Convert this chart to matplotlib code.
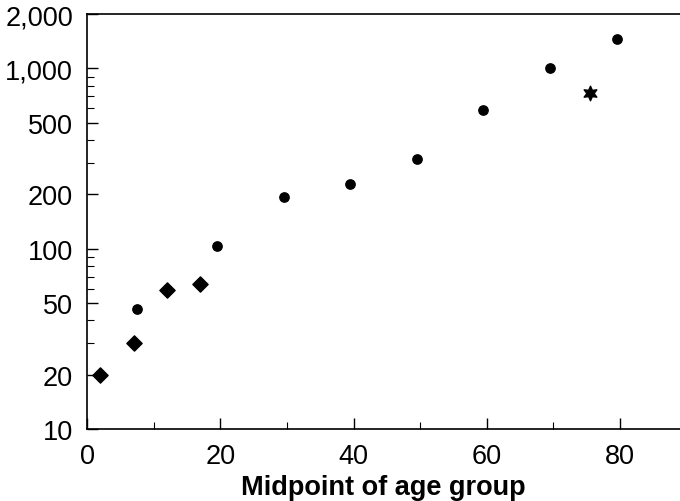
import matplotlib
matplotlib.use("Agg")
import matplotlib.pyplot as plt
from matplotlib.ticker import FixedLocator, LogLocator, NullFormatter, MultipleLocator

plt.rcParams['font.family'] = ['Liberation Sans', 'DejaVu Sans']

# diamonds
dia_age = [2, 7, 12, 17]
dia_val = [20, 30, 59, 64]
# circles
circ_age = [7.5, 19.5, 29.5, 39.5, 49.5, 59.5, 69.5, 79.5]
circ_val = [46, 103, 194, 229, 314, 585, 1010, 1460]
# star
star_age = [75.5]
star_val = [725]

yticks = [10, 20, 50, 100, 200, 500, 1000, 2000]
xticks = [0, 20, 40, 60, 80]

fig = plt.figure(figsize=(6.8, 5.02), dpi=100)
ax = fig.add_axes([0.128, 0.1434, 0.872, 0.8267])

ax.scatter(dia_age, dia_val, marker='D', s=60, color='black', zorder=3)
ax.scatter(circ_age, circ_val, marker='o', s=45, color='black', zorder=3)
ax.scatter(star_age, star_val, marker=(6, 1, 0), s=110, color='black', zorder=3)

ax.set_yscale('log')
ax.set_ylim(10, 2000)
ax.set_xlim(0, 89)
ax.yaxis.set_major_locator(FixedLocator(yticks))
ax.set_yticklabels(['{:,}'.format(v) for v in yticks])
ax.yaxis.set_minor_locator(LogLocator(base=10, subs=range(2, 10)))
ax.yaxis.set_minor_formatter(NullFormatter())
ax.set_xticks(xticks)
ax.xaxis.set_minor_locator(MultipleLocator(10))

ax.tick_params(which='major', direction='in', length=8, width=1, labelsize=19.5)
ax.tick_params(which='minor', direction='in', length=5, width=0.8)
ax.tick_params(axis='x', pad=10)
ax.tick_params(axis='y', pad=10)
ax.spines['right'].set_visible(False)
for s in ['left', 'top', 'bottom']:
    ax.spines[s].set_linewidth(1.2)

ax.set_xlabel('Midpoint of age group', fontsize=19.5, fontweight='bold', labelpad=4)

fig.savefig('out.png', dpi=100)
